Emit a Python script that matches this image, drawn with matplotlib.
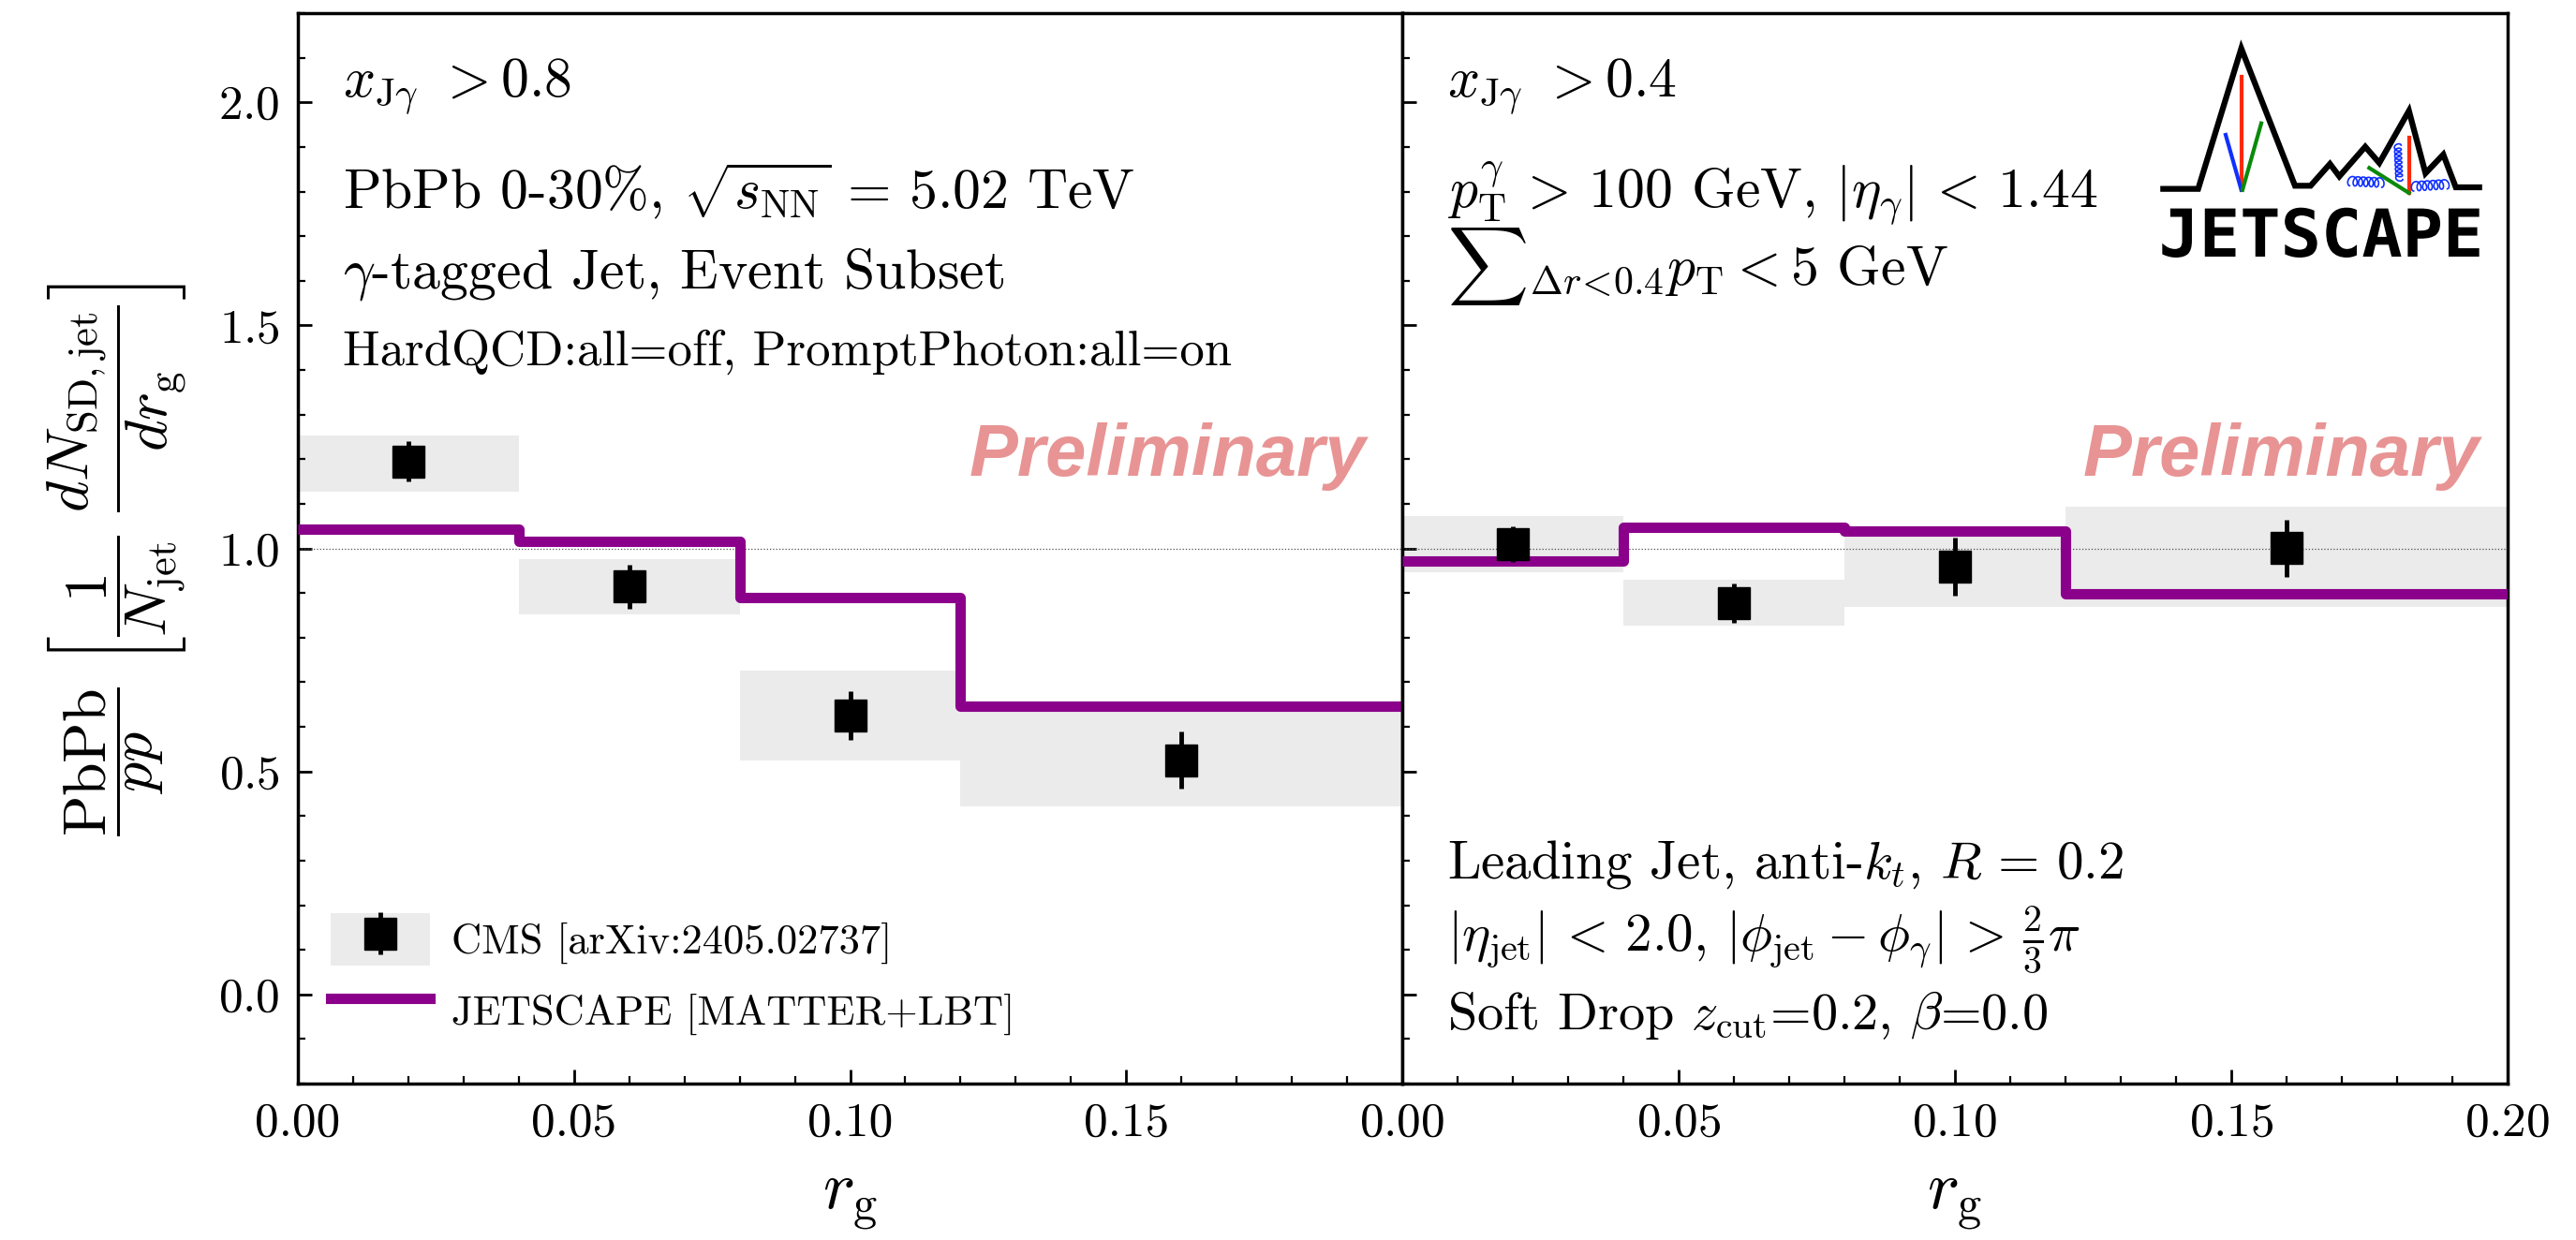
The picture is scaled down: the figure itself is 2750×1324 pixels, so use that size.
import numpy as np
import matplotlib
matplotlib.use('Agg')
import matplotlib.pyplot as plt
from matplotlib.patches import Rectangle, PathPatch
from matplotlib.legend_handler import HandlerTuple
from matplotlib.textpath import TextPath
from matplotlib.font_manager import FontProperties
from matplotlib.transforms import Affine2D

plt.rcParams['font.family'] = ['cmr10']
plt.rcParams['mathtext.fontset'] = 'cm'
plt.rcParams['axes.formatter.use_mathtext'] = True

# binning in r_g
edges = [0.0, 0.04, 0.08, 0.12, 0.20]
centers = [0.02, 0.06, 0.10, 0.16]

# x_Jgamma > 0.8
cms_y_08 = [1.195, 0.914, 0.625, 0.525]
cms_stat_08 = [0.045, 0.050, 0.055, 0.064]
cms_sys_lo_08 = [1.126, 0.853, 0.524, 0.421]
cms_sys_hi_08 = [1.254, 0.975, 0.725, 0.645]
jetscape_08 = [1.044, 1.015, 0.889, 0.647]

# x_Jgamma > 0.4
cms_y_04 = [1.010, 0.877, 0.960, 1.001]
cms_stat_04 = [0.040, 0.044, 0.065, 0.064]
cms_sys_lo_04 = [0.946, 0.827, 0.869, 0.869]
cms_sys_hi_04 = [1.073, 0.929, 1.027, 1.094]
jetscape_04 = [0.972, 1.047, 1.039, 0.898]

PURPLE = '#8b008b'
BOX = '#ebebeb'
PRELIM = '#e89494'


def draw_panel(ax, cms_y, stat, lo, hi, js):
    band = ax.fill_between(edges, lo + [lo[-1]], hi + [hi[-1]], step='post',
                           color=BOX, lw=0, zorder=1)
    ax.axhline(1.0, ls=':', color='0.3', lw=0.9, zorder=2)
    line = ax.stairs(js, edges, baseline=None, color=PURPLE, linewidth=8,
                     joinstyle='round', zorder=3)
    eb = ax.errorbar(centers, cms_y, yerr=stat, fmt='s', color='black', ms=25,
                     elinewidth=3.5, capsize=0, zorder=4)
    ax.set_xlim(0, 0.2)
    ax.set_ylim(-0.2, 2.2)
    ax.set_xticks([0.0, 0.05, 0.10, 0.15, 0.20])
    ax.set_xticks(np.arange(0, 0.2001, 0.01), minor=True)
    ax.set_yticks([0.0, 0.5, 1.0, 1.5, 2.0])
    ax.set_yticks(np.arange(-0.2, 2.2001, 0.1), minor=True)
    ax.tick_params(which='both', direction='in', top=False, right=False,
                   labelsize=37, pad=14)
    ax.tick_params(which='major', length=11, width=2)
    ax.tick_params(which='minor', length=5.5, width=1.6)
    for s in ax.spines.values():
        s.set_linewidth(2.5)
    ax.set_xlabel(r'$r_{\mathrm{g}}$', fontsize=52, labelpad=20)
    return band, line, eb


def draw_logo(fig):
    lax = fig.add_axes([2250 / 2750, 1 - 300 / 1324, 430 / 2750, 280 / 1324])
    lax.set_xlim(0, 1290)
    lax.set_ylim(840, 0)
    lax.axis('off')
    mx = [178, 290, 428, 600, 650, 712, 742, 825, 870, 965, 1018, 1075, 1115, 1190]
    my = [545, 545, 95, 535, 535, 465, 505, 410, 462, 295, 495, 435, 540, 540]
    lax.plot(mx, my, color='black', lw=4.5, solid_joinstyle='miter')
    lax.plot([430, 430], [185, 548], color='#ff2a00', lw=3)
    lax.plot([378, 428], [372, 548], color='#1030ff', lw=3)
    lax.plot([492, 432], [335, 548], color='#0a8a0a', lw=3)
    lax.plot([967, 967], [380, 558], color='#ff2a00', lw=3)
    lax.plot([838, 965], [478, 558], color='#0a8a0a', lw=3)

    def coil(p0, p1, n, r):
        t = np.linspace(0, 1, 300)
        p0 = np.array(p0, float)
        p1 = np.array(p1, float)
        d = p1 - p0
        L = np.hypot(*d)
        u = d / L
        v = np.array([u[1], -u[0]])
        along = t * L - r * 0.35 * np.sin(2 * np.pi * n * t)
        perp = r * (1 - np.cos(2 * np.pi * n * t)) / 2
        pts = p0[None, :] + along[:, None] * u[None, :] + perp[:, None] * v[None, :]
        lax.plot(pts[:, 0], pts[:, 1], color='#1030ff', lw=1.2)

    coil((775, 535), (878, 540), 6, 30)
    coil((945, 515), (940, 405), 8, 22)
    coil((980, 552), (1088, 545), 6, 30)

    tp = TextPath((0, 0), 'JETSCAPE', prop=FontProperties(family='DejaVu Sans Mono', weight='bold'))
    ext = tp.get_extents()
    sx = (1190 - 175) / ext.width
    sy = (765 - 605) / ext.height
    tr = Affine2D().translate(-ext.x0, -ext.y0).scale(sx, -sy).translate(175, 765)
    lax.add_patch(PathPatch(tr.transform_path(tp), color='black', lw=0))


fig = plt.figure(figsize=(27.5, 13.24), dpi=100)
ax1 = fig.add_axes([318 / 2750, 1 - 1157 / 1324, 1179 / 2750, 1143 / 1324])
ax2 = fig.add_axes([1497 / 2750, 1 - 1157 / 1324, 1180 / 2750, 1143 / 1324])

band, line, eb = draw_panel(ax1, cms_y_08, cms_stat_08, cms_sys_lo_08, cms_sys_hi_08, jetscape_08)
draw_panel(ax2, cms_y_04, cms_stat_04, cms_sys_lo_04, cms_sys_hi_04, jetscape_04)

ax1.set_xticklabels(['0.00', '0.05', '0.10', '0.15', ''])
ax2.set_yticklabels([])

ax1.set_ylabel(r'$\dfrac{\mathrm{PbPb}}{pp}\ \left[\dfrac{1}{N_{\mathrm{jet}}}\ \dfrac{dN_{\mathrm{SD,jet}}}{dr_{\mathrm{g}}}\right]$',
               fontsize=46)
ax1.yaxis.set_label_coords(-0.098, 0.489)

# left panel annotations
tx = 0.041
ax1.text(tx, 0.922, r'$x_{\mathrm{J}\gamma}$ $>$0.8', transform=ax1.transAxes, fontsize=43)
ax1.text(tx, 0.818, r'PbPb 0-30%, $\sqrt{s_{\mathrm{NN}}}\,=\,5.02$ TeV', transform=ax1.transAxes, fontsize=43)
ax1.text(tx, 0.743, r'$\gamma$-tagged Jet, Event Subset', transform=ax1.transAxes, fontsize=43)
ax1.text(tx, 0.671, 'HardQCD:all=off, PromptPhoton:all=on', transform=ax1.transAxes, fontsize=38)

# right panel annotations
ax2.text(tx, 0.922, r'$x_{\mathrm{J}\gamma}$ $>$0.4', transform=ax2.transAxes, fontsize=43)
ax2.text(tx, 0.818, r'$p_{\mathrm{T}}^{\gamma}\,>\,100$ GeV, $|\eta_{\gamma}|\,<\,1.44$', transform=ax2.transAxes, fontsize=43)
ax2.text(tx, 0.746, r'${\sum}_{\Delta r\!<\!0.4}p_{\mathrm{T}}<5$ GeV', transform=ax2.transAxes, fontsize=43)
ax2.text(tx, 0.192, r'Leading Jet, anti-$k_{t}$, $R\,=\,0.2$', transform=ax2.transAxes, fontsize=41)
ax2.text(tx, 0.124, r'$|\eta_{\mathrm{jet}}|\,<\,2.0$, $|\phi_{\mathrm{jet}}-\phi_{\gamma}|\,>\,\frac{2}{3}\pi$', transform=ax2.transAxes, fontsize=41)
ax2.text(tx, 0.051, r'Soft Drop $z_{\mathrm{cut}}$=0.2, $\beta$=0.0', transform=ax2.transAxes, fontsize=40.5)

for ax, px in [(ax1, 0.967), (ax2, 0.975)]:
    ax.text(px, 0.568, 'Preliminary', transform=ax.transAxes, ha='right', va='baseline',
            fontsize=56, fontfamily='Liberation Sans', fontweight='bold', fontstyle='italic',
            color=PRELIM)

patch = Rectangle((0, 0), 1, 1, facecolor=BOX, edgecolor='none')
ax1.legend([(patch, eb), line], ['CMS [arXiv:2405.02737]', 'JETSCAPE [MATTER+LBT]'],
           handler_map={tuple: HandlerTuple(ndivide=1)},
           loc='lower left', bbox_to_anchor=(0.03, 0.044), frameon=False, fontsize=32,
           handlelength=2.37, handleheight=1.55, handletextpad=0.52, labelspacing=0.45,
           borderpad=0, borderaxespad=0)

draw_logo(fig)

fig.savefig('out.png', dpi=100)
